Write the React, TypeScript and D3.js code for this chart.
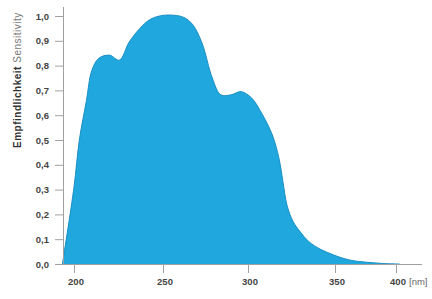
import React, { useEffect, useRef } from 'react';
import * as d3 from 'd3';

// wavelength in nm, relative sensitivity
const wavelength = [193.5, 200, 203, 207, 210, 214, 220, 225.5, 231, 237, 242.5, 248, 254, 262, 267.5, 273, 279, 284, 290, 296, 302, 308, 314, 318, 320, 322.5, 326, 330, 335, 342, 349, 356, 364, 376, 389, 403];
const sensitivity = [0, 0.31, 0.5, 0.66, 0.78, 0.83, 0.842, 0.822, 0.895, 0.95, 0.985, 1.0, 1.004, 0.995, 0.965, 0.89, 0.75, 0.682, 0.682, 0.695, 0.67, 0.606, 0.52, 0.42, 0.335, 0.235, 0.17, 0.13, 0.09, 0.058, 0.037, 0.024, 0.014, 0.007, 0.002, 0];

const xTicks = [200, 250, 300, 350, 400];
const yTicks = [0, 0.1, 0.2, 0.3, 0.4, 0.5, 0.6, 0.7, 0.8, 0.9, 1.0];

const W = 432;
const H = 299;

const App: React.FC = () => {
  const svgRef = useRef<SVGSVGElement>(null);

  useEffect(() => {
    if (!svgRef.current) return;
    const svg = d3.select(svgRef.current);
    svg.selectAll('*').remove();

    // the original axis is not evenly spaced, so map it piecewise
    const x = d3.scaleLinear().domain(xTicks).range([74, 163, 248, 335, 396]);
    const y = d3.scaleLinear().domain([0, 1]).range([264, 16]);

    const pts = wavelength.map((w, i) => [w, sensitivity[i]] as [number, number]);
    const curve = d3.curveCatmullRom.alpha(0.5);

    const area = d3.area<[number, number]>()
      .x(d => x(d[0]))
      .y0(y(0))
      .y1(d => Math.min(y(0), y(d[1])))
      .curve(curve);

    const line = d3.line<[number, number]>()
      .x(d => x(d[0]))
      .y(d => y(d[1]))
      .curve(curve);

    svg.append('path')
      .datum(pts)
      .attr('d', area)
      .style('fill', '#1fa7de');

    svg.append('path')
      .datum(pts)
      .attr('d', line)
      .style('fill', 'none')
      .style('stroke', '#1a8fc4')
      .style('stroke-width', 1);

    const axisColor = '#a0a0a0';
    const font = 'Liberation Sans, Arial, sans-serif';

    // y axis
    svg.append('line')
      .attr('x1', 63.5).attr('x2', 63.5)
      .attr('y1', 7).attr('y2', 265)
      .style('stroke', axisColor);

    const yg = svg.append('g');
    yg.selectAll('line')
      .data(yTicks)
      .enter().append('line')
      .attr('x1', 55).attr('x2', 63.5)
      .attr('y1', d => y(d) + 0.5).attr('y2', d => y(d) + 0.5)
      .style('stroke', axisColor);
    yg.selectAll('text')
      .data(yTicks)
      .enter().append('text')
      .attr('x', 49)
      .attr('y', d => y(d) + 3.5)
      .attr('text-anchor', 'end')
      .style('font-family', font)
      .style('font-size', '9.5px')
      .style('font-weight', 'bold')
      .style('fill', '#444')
      .text(d => d3.format('.1f')(d).replace('.', ','));

    // x axis
    svg.append('line')
      .attr('x1', 63).attr('x2', 422)
      .attr('y1', 264.5).attr('y2', 264.5)
      .style('stroke', axisColor);

    const xg = svg.append('g');
    xg.selectAll('line')
      .data(xTicks)
      .enter().append('line')
      .attr('x1', d => x(d) + 0.5).attr('x2', d => x(d) + 0.5)
      .attr('y1', 265).attr('y2', 273)
      .style('stroke', axisColor);
    xg.selectAll('text')
      .data(xTicks)
      .enter().append('text')
      .attr('x', d => x(d) + 2)
      .attr('y', 285)
      .attr('text-anchor', 'middle')
      .style('font-family', font)
      .style('font-size', '9.5px')
      .style('font-weight', 'bold')
      .style('fill', '#444')
      .text(d => String(d));

    svg.append('text')
      .attr('x', 409)
      .attr('y', 285)
      .style('font-family', font)
      .style('font-size', '9.5px')
      .style('fill', '#666')
      .text('[nm]');

    // y title, rotated
    const title = svg.append('text')
      .attr('transform', 'translate(21,148) rotate(-90)')
      .style('font-family', font)
      .style('font-size', '10px')
      .style('letter-spacing', '0.5px');
    title.append('tspan')
      .style('font-weight', 'bold')
      .style('fill', '#333')
      .text('Empfindlichkeit');
    title.append('tspan')
      .style('fill', '#777')
      .text(' Sensitivity');
  }, []);

  return (
    <svg
      ref={svgRef}
      width={W}
      height={H}
      style={{ position: 'absolute', left: 0, top: 0, background: '#fff' }}
    />
  );
};

export default App;
